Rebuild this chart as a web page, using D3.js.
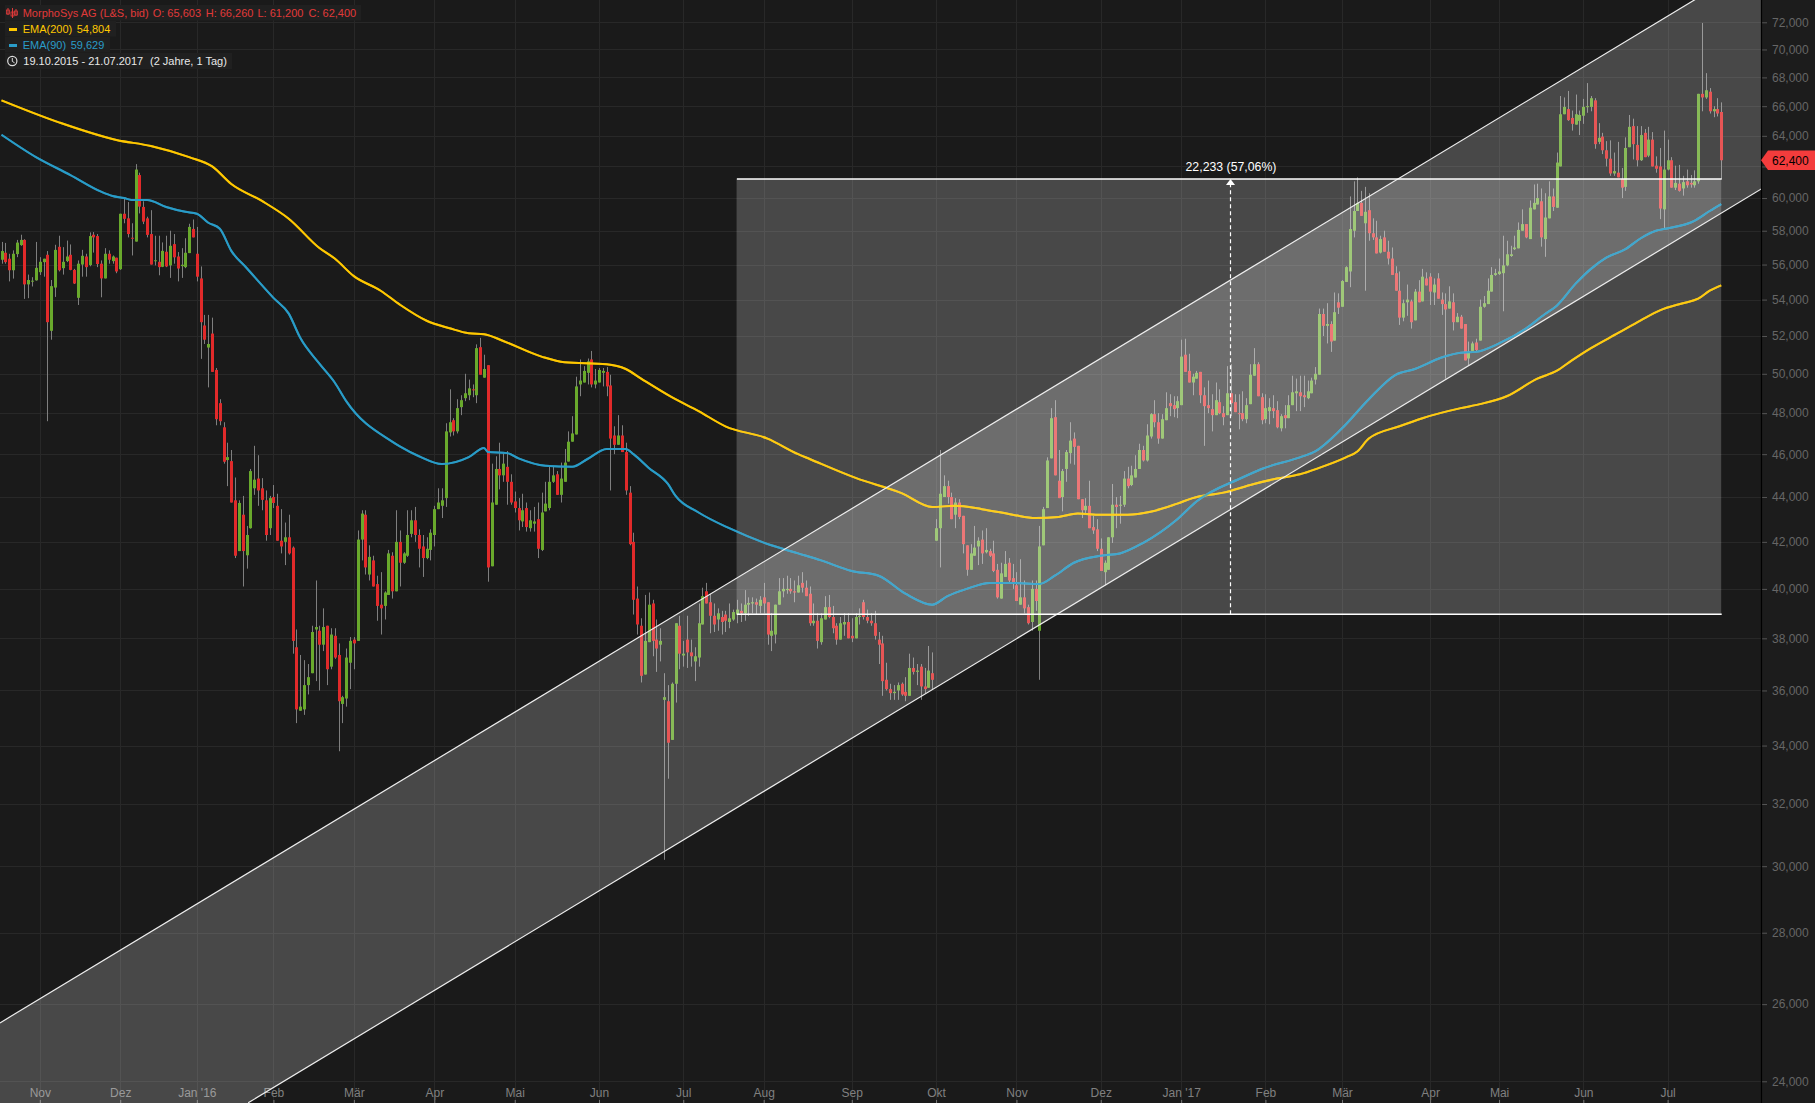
<!DOCTYPE html>
<html><head><meta charset="utf-8">
<style>html,body{margin:0;padding:0;background:#1a1a1a;overflow:hidden}svg{display:block}text{font-family:"Liberation Sans",Arial,sans-serif}</style>
<script src="https://d3js.org/d3.v7.min.js"></script></head><body>
<script>
// candles [open, high, low, close], one small array per month
const oct15=[[56.28,57.33,56.05,56.79],[56.69,57.27,56.05,56.14],[56.34,56.63,55.03,55.67],[55.67,56.83,55.19,56.63],[56.61,57.45,56.43,57.29],[57.14,57.76,57.1,57.45],[57.45,57.49,54.04,54.86],[54.86,55.42,54.08,55.11],[55.03,55.27,54.74,55.07],[55.09,57.33,55.07,55.81]];
const nov15=[[55.56,56.43,55.4,56.16],[56.14,56.34,55.3,56.34],[56.57,56.79,47.6,52.75],[52.28,55.11,51.8,54.76],[54.68,57.16,54.15,56.86],[57.04,57.7,55.6,55.67],[55.79,57.02,55.42,56.16],[56.2,57.41,56.14,56.47],[56.57,57.18,55.67,55.69],[55.69,55.75,54.88,54.91],[54.1,56.24,53.7,56.05],[56,56.86,55.3,56.51],[56.47,56.63,55.3,55.85],[55.97,57.9,55.9,57.68],[57.76,57.92,56.7,57.6],[57.68,57.8,55.85,56.03],[56.05,56.24,54.13,55.2],[55.2,56.96,55.2,56.63],[56.63,56.83,56.05,56.28],[56.2,56.53,56.05,56.47],[56.4,56.4,55.5,55.6]];
const dec15=[[55.73,59.03,55.69,59.03],[59.03,60,58.45,58.72],[58.75,59.75,57.6,57.8],[57.58,58.45,56.53,57.52],[57.35,62.15,57.35,61.8],[61.45,61.6,59.05,59.47],[59.45,59.8,58.4,58.55],[58.75,58.85,57.6,57.75],[57.8,59.25,56,56],[56.2,57.7,55.95,56.25],[56.16,57.7,55.38,55.85],[55.87,57.3,55.85,56.8],[56.75,57.7,55.85,55.89],[55.95,58,55.23,57.1],[57.2,57.8,56.05,56.42],[56.47,56.73,55.03,55.77],[55.91,56.96,55.23,55.99],[55.85,57.55,55.79,56.69],[56.67,58.42,56.67,58.23],[58.11,58.68,57.6,57.6]];
const jan16=[[56.63,58.23,55.03,55.3],[55.2,55.89,50.78,52.75],[52.57,53.15,51.57,51.8],[51.38,53.15,49.3,51.57],[52.13,53,50.1,50.1],[50.2,50.3,47.4,47.7],[48.5,48.7,47.4,47.6],[47.3,47.55,45.55,45.64],[45.72,46.55,44.5,45.86],[45.67,46.2,43.75,43.75],[43.85,44.9,41.3,41.4],[41.6,43.85,41.6,43.73],[43.2,44.05,40.1,41.6],[41.42,42.7,40.85,42.3],[42.6,45.3,42.58,45.2],[44.4,46.4,44.1,44.8],[44.85,45.95,43.6,44.3],[44.4,44.87,43.4,43.87],[43.85,44.3,42.05,42.3],[42.6,44.05,42.3,43.95]];
const feb16=[[44,44.55,43.5,43.73],[43.6,44.15,42.05,42.05],[42.05,43.45,41.5,41.8],[42,42.85,41,42.2],[42.2,43.2,41.45,41.5],[41.75,41.8,37.4,37.9],[37.65,38.35,34.8,35.3],[35.25,37.35,35.25,35.4],[35.3,37.15,35.1,36.2],[36.2,37,35.85,36.5],[36.65,38.5,36.65,38.25],[38.35,40.35,36.35,38.45],[38.3,38.5,36,37.75],[37.75,39.2,37.5,38.45],[38.5,38.5,36.2,36.8],[36.9,38.4,36.8,38.15],[38.1,38.4,37.2,37.25],[37.35,37.8,33.8,35.6],[35.5,35.8,34.8,35.75],[35.7,37.6,35.4,37.25],[37.05,38.05,36.05,37.9]];
const mar16=[[37.95,38.05,36.8,37.8],[37.9,42.5,37.9,42.1],[42.1,43.4,41.2,43.25],[43.2,43.4,40.6,40.9],[40.6,41.85,40.35,41.35],[41.2,41.4,40.1,40.1],[40.2,40.55,38.7,39.3],[39.35,40.7,38.15,39.2],[39.3,39.9,38.75,39.85],[39.75,41.65,39.75,41.5],[41.4,41.55,39.6,39.9],[39.9,43.4,39.9,42],[42,42.5,40.1,41.1],[41.1,41.55,41.05,41.5],[41.4,43.4,41.35,42.3],[42.35,43.4,42.2,42.95],[42.95,43.55,42,42.3],[42.3,42.55,40.9,41.7],[41.8,42.3,40.5,41.3],[41.3,42.2,41.25,41.7],[41.65,42.55,41.2,42.4]];
const apr16=[[42.3,43.6,41.8,43.45],[43.45,44.4,43.45,43.75],[43.6,44.4,43.05,43.85],[43.95,47.5,43.55,47.1],[47.05,49.2,46.85,47.55],[47.65,47.75,46.9,47.1],[47.1,48.7,47,48.25],[48.3,48.9,47.9,48.65],[48.75,50,48.6,49],[48.9,49.7,48.65,49.25],[49.2,49.45,48.8,49.15],[48.9,51.55,48.5,51.35],[51.4,51.9,49.95,49.95],[49.8,51,49.8,50.25],[50.45,50.45,40.3,40.9],[40.95,45.55,40.95,43.75],[43.65,45.9,43.65,45.3],[45.3,46.55,44.35,45],[45,46.05,44.7,45.55],[45.4,46.15,43.65,44.7],[44.7,45.05,43.65,43.75]];
const may16=[[43.8,44.25,43.3,43.5],[43.5,43.95,42.5,42.95],[42.9,44.15,42.65,43.4],[43.5,43.75,42.45,42.65],[42.6,43.4,42.45,42.95],[42.8,43.55,42.45,42.9],[43,43.75,41.3,41.7],[41.65,44.2,41.6,43.3],[43.35,44.7,43.35,43.7],[43.5,45.4,43.4,44.7],[44.7,45.4,44.65,45],[45.05,45.2,44.1,44.1],[44.1,45.6,43.75,44.85],[44.7,46.25,44.7,45.6],[45.65,47.1,45.65,46.6],[46.6,47.85,46.6,47],[46.95,49.85,46.95,49.35],[49.45,50.75,48.85,49.65],[49.55,50.4,49.55,50.15],[50.05,50.8,49.45,50.65],[50.75,51.2,49.3,49.45],[49.45,50.25,49.25,49.65]];
const jun16=[[49.55,50.3,49.55,50.2],[50.05,50.3,49.35,50.15],[50.1,50.35,48.85,49.35],[49.4,49.95,44.3,46.75],[46.9,47.35,46,46.45],[46.45,47.9,46.45,46.9],[46.9,47.4,46.1,46.1],[46.1,46.55,44.1,44.3],[44.2,44.5,41.85,41.9],[42,42.4,38.95,39.55],[39.6,40.1,38.15,38.55],[38.5,38.8,36.3,36.55],[36.6,39.75,36.6,37.9],[37.85,39.85,37.85,39.35],[39.4,39.55,37.3,37.9],[37.95,38.75,36.7,37.6],[37.75,38.4,37.1,37.9],[35.65,36.65,30.2,35.75],[35.6,36.2,32.85,34.1],[34.2,36.3,34.2,36.25],[36.25,38.6,35.55,38.6],[38.5,38.9,36.8,37.4]];
const jul16=[[37.33,37.9,36.9,37.4],[37.95,38.9,36.85,37.45],[37.45,37.95,36.9,37.3],[37.1,37.65,36.35,37.3],[37.25,39.4,36.9,38.6],[38.55,40.05,38.55,39.7],[39.9,40.25,39.4,39.4],[39.45,39.8,38.2,38.9],[38.9,39.4,38.25,38.55],[38.75,39.2,38.3,39],[38.85,39.1,38.15,38.65],[38.95,39.1,38.25,38.7],[38.65,39.4,38.4,38.8],[38.75,39.15,38.7,39.05],[38.95,39.55,38.6,39.15],[39.1,39.4,38.65,39],[39,39.95,38.7,39.35],[39.35,39.65,38.9,39.42],[39.4,39.65,39,39.45],[39.45,39.6,38.95,39.35],[39.3,39.7,39,39.55]];
const aug16=[[39.65,40.25,39,39.4],[39.45,39.45,37.75,38.15],[38.1,39,37.5,38.3],[38.15,39.35,37.8,39.35],[39.35,40.45,39.35,39.9],[39.9,40.45,39.65,40],[39.95,40.55,39.8,40],[40,40.45,39.8,39.9],[39.9,40.35,39.45,39.85],[39.85,40.55,39.85,40.15],[40.25,40.7,39.85,40.05],[40.05,40.35,39.7,39.7],[39.8,40.1,38.5,38.6],[38.6,39.4,38.5,38.7],[38.7,39,37.6,37.9],[37.85,39,37.75,38.8],[38.75,39.7,38.75,39.25],[39.25,39.75,38.8,38.85],[38.85,39.3,38.2,38.4],[38.5,38.6,37.75,37.95],[37.95,38.85,37.95,38.6],[38.55,39,38.1,38.65],[38.65,39,38,38]];
const sep16=[[38.1,38.8,37.85,38],[38,39,38,38.85],[38.85,39.2,38.55,38.9],[39.45,39.55,38.75,38.85],[38.85,39.15,38.6,38.7],[38.7,39,38.5,38.6],[38.6,39.1,37.95,38.1],[37.95,38.25,37,37.75],[37.8,38.1,35.8,36.35],[36.4,37.05,36,36.05],[36.05,36.25,35.65,35.9],[35.9,36.2,35.65,35.95],[36,36.3,35.65,36.2],[36.25,36.3,35.8,35.85],[35.95,36.5,35.6,35.8],[35.8,37.4,35.8,36.85],[36.85,37.25,36.6,36.7],[36.7,37,36.2,36.75],[36.9,37,35.65,36.15],[36.15,36.85,35.9,36.05],[36.1,37.7,36.1,36.75],[36.65,37.45,36.05,36.4]];
const oct16=[[42.05,43,42.05,42.6],[42.6,46.2,40.9,44.15],[44,45,44,44.5],[44.5,44.75,43.7,44],[44,44.2,43,43],[43.2,43.95,42.6,43.75],[43.75,43.9,43,43.1],[43.15,43.15,41.5,41.9],[41.85,41.85,40.55,40.8],[40.8,41.9,40.8,41.5],[41.4,42.7,41.4,41.75],[41.8,42.2,41,42.05],[42.1,42.5,41.05,41.5],[41.55,42.6,41.5,41.65],[41.6,41.7,41.35,41.4],[41.5,42.05,40.7,40.75],[40.8,41.05,39.6,39.65],[39.6,41.1,39.6,40.65],[40.5,41.6,40.5,41.05],[41.1,41.3,40.25,40.35],[40.45,41.05,40,40.25]];
const nov16=[[40.15,40.7,39.5,39.5],[39.35,41.25,39.35,39.65],[39.65,40.35,39,39.2],[39.25,39.35,38.55,38.6],[38.65,40.35,38.3,40],[40,40.35,39.1,39.5],[38.3,42.7,36.4,41.8],[41.85,43.55,41.85,43.45],[43.5,45.85,43.5,45.7],[45.8,48.25,45.8,47.75],[47.8,48.65,45,45],[44.75,46.2,43.95,43.95],[44,45.3,43.35,45.2],[45.3,46.2,44.7,46.1],[46.05,47.55,45.55,46.65],[46.75,47.05,45.5,46.35],[46.4,46.4,43.9,43.9],[43.9,43.9,43.05,43.4],[43.4,43.95,43.2,43.6],[43.6,44.75,42.6,42.6],[42.65,43.15,42.35,42.5],[42.55,43,41.6,41.7]];
const dec16=[[41.7,42.15,40.75,40.75],[40.7,41.2,40.15,41.1],[40.8,42.2,40.8,42.2],[42.2,44.6,41.95,43.65],[43.65,44,42.6,43.55],[43.6,44.05,42.8,43.65],[43.65,45.2,43.55,44.85],[44.85,45.4,44.4,44.5],[44.55,45.45,44.5,45],[44.9,45.95,44.9,45.3],[45.3,46.5,45.3,46.2],[46.2,46.4,45.65,45.7],[45.7,47.45,45.65,46.9],[46.85,48,46.75,47.95],[47.95,48.65,47.3,47.55],[47.55,48,46.5,46.75],[46.75,47.95,46.75,47.7],[47.65,49.05,47.65,48.25],[48.5,48.95,47.85,48.35],[48.4,48.85,47.8,48.2],[48.25,48.85,47.75,48.6]];
const jan17=[[48.4,51.8,48.4,50.9],[51,51.85,50.1,50.1],[50.15,51.05,49.55,49.55],[49.55,50,48.9,49.85],[49.75,50.15,49.75,50.05],[50.1,50.1,48.5,48.9],[48.9,49.3,46.4,48.35],[48.4,49.65,48,48.25],[48.2,48.95,47.1,47.9],[47.9,49.55,47.9,48.65],[48.55,49.2,47.95,48],[48,48.35,47.4,47.8],[47.9,50.4,47.9,49],[49,50.5,47.85,48.5],[48.55,48.95,48.05,48.05],[48,48.95,47.2,47.95],[48,49.1,47.6,47.7],[47.7,48.75,47.5,48.4],[48.45,50.5,48.45,49.95],[49.9,51.35,49.9,50.5],[50.5,50.6,48.85,48.85],[48.8,49,47.45,47.65]];
const feb17=[[47.7,48.95,47.5,48.25],[48.1,48.75,47.45,48.3],[48.25,48.9,47.75,48.1],[48.15,48.6,47.25,47.3],[47.25,47.95,47.1,47.85],[47.9,48.4,47.25,47.75],[47.75,48.9,47.75,48.4],[48.4,49.9,48.4,49.05],[49,49.75,48.1,49.1],[49.05,49.9,48.1,48.85],[48.9,49.9,48.3,48.8],[48.75,49.65,48.7,49.1],[49,49.8,49,49.65],[49.7,50.35,49.45,50],[49.95,53.5,49.95,53.2],[53.2,53.5,52,52.55],[52.55,53.8,51.6,52.65],[52.65,52.8,51.15,51.7],[51.75,54.4,51.75,53.3],[53.85,54.35,53.2,53.55]];
const mar17=[[53.6,55.1,53.6,55.05],[55,55.9,55,55.85],[55.6,60.1,54.7,58.1],[58,61.05,57.6,59.2],[59.2,61.3,59.2,59.7],[59.7,60.45,58.9,58.9],[58.45,60.7,54.5,59.15],[59.25,60.3,57.4,57.85],[57.85,58.75,57.45,57.6],[57.6,58.6,56.65,56.65],[56.7,57.7,56.65,57.5],[57.6,58,56.75,56.75],[56.75,57.4,56,56.35],[56.35,57,55.4,55.4],[55.5,55.9,54.5,54.5],[54.5,55.6,52.6,53],[53,54,52.8,53.8],[53.85,54.85,53.1,54],[53.9,54,52.4,52.75],[52.85,54.6,52.85,54.45],[54.45,55.1,53.85,53.85],[53.9,55.75,53.9,55.3],[55.2,55.55,54.8,54.8]];
const apr17=[[55.3,55.5,53.7,54.45],[54.4,55.2,53.7,54.85],[55.2,55.5,54.05,54.05],[54,54.4,53.15,53.75],[53.75,54.35,49.75,53.45],[53.5,54.75,53.5,53.9],[53.85,54.35,52.3,52.75],[52.75,53.25,52.75,53.05],[53.05,53.15,52.4,52.4],[52.65,52.65,50.7,50.7],[50.8,51.7,50.45,51.15],[51.2,51.7,51.2,51.6],[51.65,51.85,51.2,51.25],[51.75,54,51.75,53.6],[53.6,54.2,53.55,53.8],[53.75,55.2,53.75,54.5],[54.45,55.85,54.45,55.4],[55.4,55.75,55.35,55.5]];
const may17=[[55.45,56.35,55.4,55.6],[55.5,57.7,53.35,55.95],[55.95,57.4,55.9,56.6],[56.5,57.1,56.45,56.6],[56.9,57.7,56.85,57],[56.95,58.5,56.95,58.05],[58,59.3,58,58.4],[58.4,58.4,57.55,57.6],[57.5,59.85,57.5,59.4],[59.3,60.85,59.3,59.7],[59.6,60.9,59.6,60],[59.8,60.6,57.05,57.6],[57.5,60.3,56.45,58.8],[58.75,61.05,58.75,60.1],[60.1,60.6,59.2,59.45],[59.4,62.9,59.4,62.25],[62,66.7,62,65.45],[65.45,66.6,65.45,65.95],[65.8,67.05,65,65.05],[65.2,65.7,64.35,64.8],[64.75,66.8,64.75,65.45],[65,65.7,64.05,65.4]];
const jun17=[[65.35,66.5,64.8,65.95],[65.95,67.6,65.55,66],[65.95,66.7,65.65,66.55],[66.4,66.55,63.15,63.45],[63.6,64.85,63.45,63.87],[63.95,64.2,62.8,63.05],[63.05,63.65,62,62.5],[62.5,63.7,61.4,61.55],[61.55,62.9,61.4,61.7],[61.6,63.6,61.3,61.3],[61.2,61.9,60,60.65],[60.7,63.9,60.45,63.2],[63.25,65.4,63.25,64.6],[64.65,65.15,62.45,63.45],[63.4,64.65,62,62.4],[62.4,64.65,62.35,64.05],[64.2,64.45,62.6,62.6],[62.7,64.6,62.6,63.75],[63.75,64.25,62,62],[62.05,62.65,61.6,61.85],[62,63.2,58.7,59.35],[59.3,64.35,58.1,61.8]];
const jul17=[[61.8,63.75,61.75,62.4],[62.4,62.6,60.65,60.65],[60.65,62.05,60.5,60.95],[60.9,62.1,60.4,60.45],[60.6,61.4,60.15,61],[61.05,61.8,60.65,60.8],[60.95,61.45,60.65,60.85],[60.8,61.75,60.65,61.05],[61.05,66.85,60.9,66.85],[66.85,71.95,65.65,66.6],[66.6,68.3,66.5,67.1],[67,67.25,65.5,65.65],[65.65,66,65.25,65.8],[65.8,66.55,65.3,65.5],[65.603,66.26,61.2,62.4]];
const monthCandles=[oct15,nov15,dec15,jan16,feb16,mar16,apr16,may16,jun16,jul16,aug16,sep16,oct16,nov16,dec16,jan17,feb17,mar17,apr17,may17,jun17,jul17];
const monthLabels=[null,"Nov","Dez","Jan '16","Feb","Mär","Apr","Mai","Jun","Jul","Aug","Sep","Okt","Nov","Dez","Jan '17","Feb","Mär","Apr","Mai","Jun","Jul"];
const priceTicks=[72,70,68,66,64,62,60,58,56,54,52,50,48,46,44,42,40,38,36,34,32,30,28,26,24];
const ema200Idx=[0,15,30,39,49,55,60,68,75,83,87,92,99,104,111,117,122,126,131,141,147,158,163,167,175,182,189,200,208,211,223,235,243,249,256,264,270,276,281,287,294,300,307,311,319,327,333,339,344,351,354,357,365,371,381,386,393,401,406,410,415,422,428,433,439,443,446,449];
const ema200Val=[66.4,64.9,63.73,63.33,62.6,62,60.88,59.82,58.73,56.97,56.35,55.33,54.5,53.72,52.83,52.42,52.15,52.1,51.73,50.9,50.6,50.5,50.25,49.75,48.8,48.1,47.35,46.75,46,45.77,44.88,44.18,43.55,43.6,43.45,43.2,43.05,43.1,43.25,43.2,43.2,43.33,43.7,43.95,44.2,44.6,44.85,45.05,45.35,45.85,46.13,46.75,47.35,47.75,48.25,48.45,48.85,49.75,50.15,50.7,51.35,52.15,52.85,53.4,53.8,54.05,54.5,54.804];
const ema90Idx=[0,9,18,26,29,32,34,38,43,48,51,54,57,60,64,71,75,78,83,87,90,102,104,109,115,122,126,127,132,135,142,149,153,158,163,165,169,174,176,182,190,201,208,214,222,229,236,243,247,252,258,264,271,275,280,287,292,298,307,312,324,329,339,343,350,357,364,369,376,381,385,391,398,403,406,411,415,419,424,428,432,434,442,446,449];
const ema90Val=[64.07,62.6,61.45,60.4,60.13,60,59.88,59.88,59.45,59.15,59.03,58.48,58.12,56.8,55.8,54.1,53.22,51.9,50.53,49.55,48.6,46.6,46.37,45.9,45.53,45.86,46.3,46.1,46.05,45.8,45.45,45.4,45.77,46.25,46.25,46,45.35,44.6,44.05,43.3,42.6,41.85,41.5,41.2,40.75,40.55,39.8,39.35,39.7,40,40.25,40.25,40.2,40.55,41.1,41.4,41.5,41.95,43,43.8,44.9,45.3,45.85,46.13,47.25,48.7,49.95,50.25,50.85,51.1,51.15,51.6,52.4,53.2,53.65,54.9,55.75,56.4,56.9,57.55,58,58.1,58.6,59.2,59.629];
const channelUpper=[[-0.4,25.5],[441.4,73.58]];
const channelLower=[[64.4,23.47],[459.4,60.56]];
const boxIdx=[192,449], boxLow=38.96, boxHigh=61.193, rangeIdx=320.7;
const rangeLabel="22,233 (57,06%)", lastClose=62.4;
const titleRow=["MorphoSys AG (L&S, bid)","O: 65,603","H: 66,260","L: 61,200","C: 62,400"];
const emaRows=[["EMA(200)","54,804"],["EMA(90)","59,629"]];
const periodRow=["19.10.2015 - 21.07.2017","(2 Jahre, 1 Tag)"];

const candles=monthCandles.flat();
const W=1815,H=1103,plotR=1761;
const x=d3.scaleLinear().domain([0,candles.length-1]).range([1.5,1721.2]);
const y=d3.scaleLog().domain([72,24]).range([22.3,1081.3]);
const RED="#e12a2a",GREEN="#69a92c",YEL="#ffc800",BLU="#2a9cc8";
const svg=d3.select("body").append("svg").attr("width",W).attr("height",H);
svg.append("rect").attr("width",W).attr("height",H).attr("fill","#1a1a1a");
svg.append("defs").append("clipPath").attr("id","plot").append("rect").attr("width",plotR).attr("height",H);
const plot=svg.append("g").attr("clip-path","url(#plot)");

// month starts
let acc=0; const monthStarts=monthCandles.map(m=>{const s=acc;acc+=m.length;return s;});
const xTicks=monthLabels.map((l,i)=>({l,i:monthStarts[i]})).filter(d=>d.l);
const gx=v=>Math.round(x(v))+0.5;
// grid
plot.append("g").selectAll("line").data(xTicks).join("line").attr("x1",d=>gx(d.i)).attr("x2",d=>gx(d.i)).attr("y1",0).attr("y2",H).attr("stroke","#282828");
plot.append("g").selectAll("line").data(priceTicks).join("line").attr("x1",0).attr("x2",plotR).attr("y1",d=>Math.round(y(d))+0.5).attr("y2",d=>Math.round(y(d))+0.5).attr("stroke","#282828");
// x axis
const axB=d3.axisBottom(x).tickValues(xTicks.map(d=>d.i)).tickSize(3).tickFormat(v=>xTicks.find(d=>d.i===v).l);
const gB=plot.append("g").attr("transform","translate(0,1100)").call(axB);
gB.select(".domain").remove();
gB.selectAll(".tick line").attr("stroke","#777");
gB.selectAll("text").attr("y",-3).attr("dy",0).attr("fill","#808080").attr("font-size",12).attr("font-family","Liberation Sans");

// candles
const cg=plot.append("g");
cg.selectAll("line").data(candles).join("line").attr("x1",(d,i)=>gx(i)).attr("x2",(d,i)=>gx(i))
  .attr("y1",d=>y(d[1])).attr("y2",d=>y(d[2])).attr("stroke","#7f7f7f");
cg.selectAll("rect").data(candles).join("rect").attr("x",(d,i)=>gx(i)-1.5).attr("width",3)
  .attr("y",d=>y(Math.max(d[0],d[3]))).attr("height",d=>Math.max(1,y(Math.min(d[0],d[3]))-y(Math.max(d[0],d[3]))))
  .attr("fill",d=>d[3]>=d[0]?GREEN:RED);
// EMA
const ln=d3.line().x(d=>x(d[0])).y(d=>y(d[1])).curve(d3.curveMonotoneX);
const ema200=d3.zip(ema200Idx,ema200Val), ema90=d3.zip(ema90Idx,ema90Val);
function drawEma(g,op){
  g.append("path").attr("d",ln(ema200)).attr("fill","none").attr("stroke",YEL).attr("stroke-width",2).attr("stroke-opacity",op);
  g.append("path").attr("d",ln(ema90)).attr("fill","none").attr("stroke",BLU).attr("stroke-width",2).attr("stroke-opacity",op);
}
drawEma(plot.append("g"),1);
// channel: polygon along the same two lines up to the plot edge
function ext(line,xi){const [a,b]=line;const t=(xi-a[0])/(b[0]-a[0]);return [xi,Math.exp(Math.log(a[1])+t*(Math.log(b[1])-Math.log(a[1])))];}
const ovl="rgba(255,255,255,0.205)";
plot.append("path").attr("d",d3.line().x(d=>x(d[0])).y(d=>y(d[1]))([ext(channelUpper,-0.4),ext(channelUpper,470),ext(channelLower,470),ext(channelLower,-0.4)])+"Z").attr("fill",ovl);
// box
plot.append("rect").attr("x",x(boxIdx[0])-0.3).attr("width",x(boxIdx[1])-x(boxIdx[0])+0.3).attr("y",y(boxHigh)).attr("height",y(boxLow)-y(boxHigh)).attr("fill",ovl);
drawEma(plot.append("g"),0.7);
// channel lines
[channelUpper,channelLower].forEach(l=>{
  plot.append("line").attr("x1",x(l[0][0])).attr("y1",y(l[0][1])).attr("x2",x(ext(l,470)[0])).attr("y2",y(ext(l,470)[1])).attr("stroke","#eee").attr("stroke-width",1.2);
});
// box edge lines
[boxHigh,boxLow].forEach(v=>{
  plot.append("line").attr("x1",x(boxIdx[0])).attr("x2",x(boxIdx[1])+0.5).attr("y1",y(v)).attr("y2",y(v)).attr("stroke","#fff").attr("stroke-width",1.4);
});
const rx=Math.round(x(rangeIdx))+0.5;
plot.append("line").attr("x1",rx).attr("x2",rx).attr("y1",y(boxLow)).attr("y2",y(boxHigh)+6).attr("stroke","#fff").attr("stroke-width",1.2).attr("stroke-dasharray","4,3");
plot.append("path").attr("d",`M${rx},${y(boxHigh)}l4.5,6h-9z`).attr("fill","#fff");
plot.append("text").attr("x",rx+0.5).attr("y",y(boxHigh)-8).attr("text-anchor","middle").attr("fill","#fff").attr("font-size",12.3).text(rangeLabel);

// right axis
svg.append("rect").attr("x",plotR).attr("width",W-plotR).attr("height",H).attr("fill","#1c1c1c");
const fmt=d3.formatLocale({decimal:",",thousands:".",grouping:[3],currency:["","€"]}).format(".3f");
const axR=d3.axisRight(y).tickValues(priceTicks).tickSize(6).tickPadding(5).tickFormat(v=>v===62?"":fmt(v)); // 62,000 sits behind the price tag
const gR=svg.append("g").attr("transform",`translate(${plotR},0)`).call(axR);
gR.select(".domain").remove();
gR.selectAll(".tick line").attr("stroke","#555");
gR.selectAll("text").attr("fill","#666").attr("font-size",12).attr("font-family","Liberation Sans");
svg.append("line").attr("x1",plotR+0.5).attr("x2",plotR+0.5).attr("y1",0).attr("y2",H).attr("stroke","#000").attr("stroke-width",1.2);
// price tag
const ty=y(lastClose);
svg.append("path").attr("d",`M${plotR},${ty}L${plotR+7},${ty-9.7}H${W}V${ty+9.7}H${plotR+7}Z`).attr("fill","#f33c3c");
svg.append("text").attr("x",1772).attr("y",ty+4.5).attr("fill","#000").attr("font-size",12).text(fmt(lastClose));

// legend
const leg=svg.append("g").attr("font-size",11);
const lbg=[[5,5,356,15.5],[5,21,111,15.5],[5,37,105,15.5],[5,53,227,16]];
leg.selectAll("rect.bg").data(lbg).join("rect").attr("class","bg").attr("x",d=>d[0]).attr("y",d=>d[1]).attr("width",d=>d[2]).attr("height",d=>d[3]).attr("fill","#202020");
const tR="#e03a3a";
// candle icon
[[8,8,15,10,14],[12.5,8,18,12,16],[16,9,16,11,15]].forEach(c=>{
  leg.append("line").attr("x1",c[0]).attr("x2",c[0]).attr("y1",c[1]).attr("y2",c[2]).attr("stroke",tR);
  leg.append("rect").attr("x",c[0]-1.5).attr("y",c[3]).attr("width",3).attr("height",c[4]-c[3]).attr("fill","none").attr("stroke",tR).attr("stroke-width",0.8);
});
const tx=[22.7,152.7,205.7,257.5,308.5];
titleRow.forEach((t,i)=>leg.append("text").attr("x",tx[i]).attr("y",17).attr("fill",tR).text(t));
leg.append("rect").attr("x",9).attr("y",28).attr("width",8).attr("height",3).attr("fill",YEL);
leg.append("text").attr("x",22.7).attr("y",33).attr("fill",YEL).text(emaRows[0][0]);
leg.append("text").attr("x",76.7).attr("y",33).attr("fill",YEL).text(emaRows[0][1]);
leg.append("rect").attr("x",9).attr("y",44).attr("width",8).attr("height",3).attr("fill",BLU);
leg.append("text").attr("x",22.7).attr("y",49).attr("fill",BLU).text(emaRows[1][0]);
leg.append("text").attr("x",70.7).attr("y",49).attr("fill",BLU).text(emaRows[1][1]);
leg.append("circle").attr("cx",12.3).attr("cy",61).attr("r",4.6).attr("fill","none").attr("stroke","#ddd").attr("stroke-width",1.2);
leg.append("path").attr("d","M12.3,58v3.4l2.3,1.4").attr("fill","none").attr("stroke","#ddd");
leg.append("text").attr("x",23.3).attr("y",65).attr("fill","#e8e8e8").text(periodRow[0]);
leg.append("text").attr("x",150).attr("y",65).attr("fill","#e8e8e8").text(periodRow[1]);
</script></body></html>
